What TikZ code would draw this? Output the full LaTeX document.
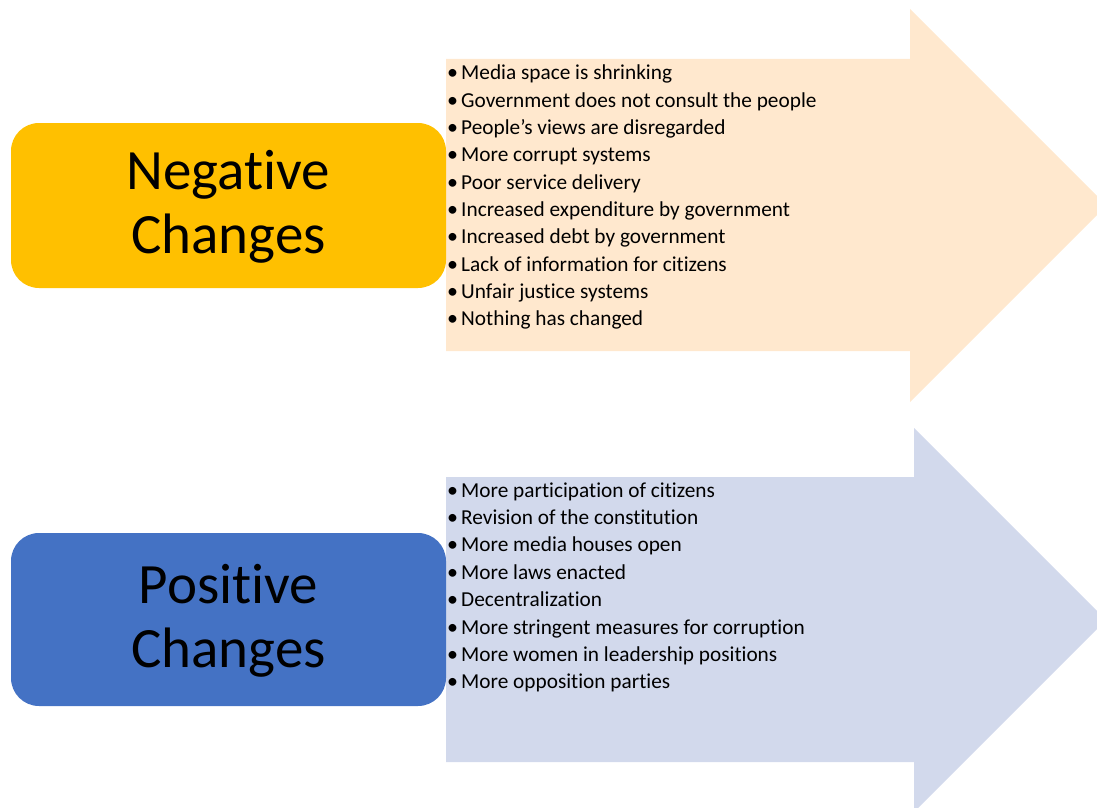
\documentclass[tikz,border=0pt]{standalone}
\usepackage{fontspec}
\setmainfont{Carlito}[Ligatures={NoCommon}]
\definecolor{negfill}{HTML}{FFC000}
\definecolor{posfill}{HTML}{4472C4}
\definecolor{negarrow}{HTML}{FFE8CE}
\definecolor{posarrow}{HTML}{D2D9EC}
\tikzset{
  labelbox/.style={rounded corners=28pt, minimum width=435pt, inner sep=0pt, draw=none},
  bigtext/.style={anchor=base, inner sep=0pt, font=\fontsize{57}{64}\selectfont},
  itemtext/.style={anchor=base west, inner sep=0pt, font=\fontsize{21.3}{27}\selectfont},
  bullettext/.style={anchor=base, inner sep=0pt, font=\fontsize{22}{27}\selectfont},
}
\begin{document}
\begin{tikzpicture}[x=1pt,y=-1pt]
\useasboundingbox (0,0) rectangle (1097,808);
\clip (0,0) rectangle (1097,808);
% arrows
\fill[negarrow] (446,59) -- (910,59) -- (910,9) -- (1106.5,205.5) -- (910,402) -- (910,351) -- (446,351) -- cycle;
\fill[posarrow] (446,477) -- (914,477) -- (914,428) -- (1106,620) -- (914,812) -- (914,762) -- (446,762) -- cycle;
% label boxes
\node[labelbox, fill=negfill, minimum height=165pt] (negbox) at (228.5,205.5) {};
\node[labelbox, fill=posfill, minimum height=173pt] (posbox) at (228.5,619.5) {};
\node[bigtext] (negt1) at (228.5,189.5) {Negative};
\node[bigtext] (negt2) at (228.5,253.5) {Changes};
\node[bigtext] (post1) at (228.5,603.5) {Positive};
\node[bigtext] (post2) at (228.5,667.5) {Changes};
% negative items
\foreach \t [count=\i] in {Media space is shrinking,
  Government does not consult the people,
  People’s views are disregarded,
  More corrupt systems,
  Poor service delivery,
  Increased expenditure by government,
  Increased debt by government,
  Lack of information for citizens,
  Unfair justice systems,
  Nothing has changed}{
  \node[bullettext] (nb\i) at (452.5,{80+(\i-1)*27.33}) {•};
  \node[itemtext] (ni\i) at (461,{80+(\i-1)*27.33}) {\t};
}
% positive items
\foreach \t [count=\i] in {More participation of citizens,
  Revision of the constitution,
  More media houses open,
  More laws enacted,
  Decentralization,
  More stringent measures for corruption,
  More women in leadership positions,
  More opposition parties}{
  \node[bullettext] (pb\i) at (452.5,{497+(\i-1)*27.4}) {•};
  \node[itemtext] (pi\i) at (461,{497+(\i-1)*27.4}) {\t};
}
\end{tikzpicture}
\end{document}
